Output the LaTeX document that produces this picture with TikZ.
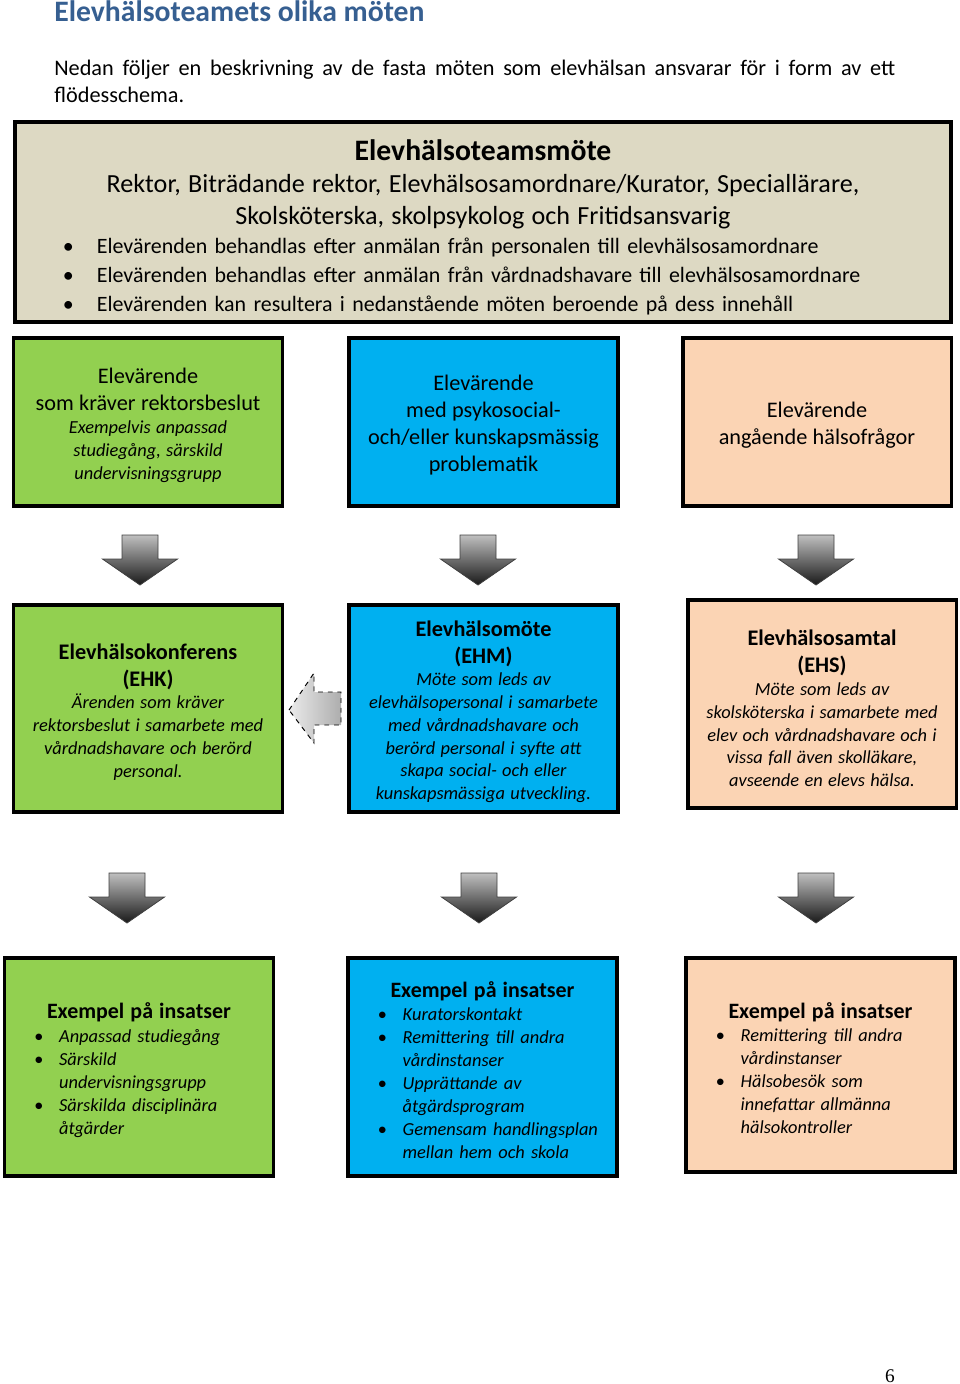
\documentclass[tikz,border=0pt]{standalone}
\usepackage{fontspec}
\setmainfont{Carlito}
\newfontfamily\sidfont{Liberation Serif}
\usetikzlibrary{positioning}
\definecolor{rubrikbla}{HTML}{365F91}
\definecolor{beige}{HTML}{DDD9C3}
\definecolor{gron}{HTML}{92D050}
\definecolor{bla}{HTML}{00B0F0}
\definecolor{persika}{HTML}{FBD4B4}

% punkt i en lista, med haengande indrag
\newcommand\pkt[2][15.5pt]{\par\hyphenpenalty=10000\hangindent=#1\hangafter=1\noindent\makebox[#1][l]{\textbullet}#2\par}

\tikzset{
	ruta/.style={draw=black, line width=2.2pt, inner sep=0pt, align=center, minimum width=166.5pt, text width=158pt,
		execute at end node={\par\vspace*{-4pt}}},
	lista/.style={ruta, align=left, text width=130pt, font=\itshape\fontsize{11.4}{14.3}\selectfont},
	pics/nedpil/.style={code={
		\draw[draw=black!75, line width=0.5pt, top color=black!25, bottom color=black!90]
			(-18,-50) -- (18,-50) -- (18,-26) -- (37.5,-26) -- (0,0) -- (-37.5,-26) -- (-18,-26) -- cycle;
	}},
}

\begin{document}
\begin{tikzpicture}[x=0.62pt, y=-0.62pt]
	\useasboundingbox (0,0) rectangle (960,1384);
	\node (rubrik) [anchor=base west, inner sep=0pt, text=rubrikbla, font=\bfseries\fontsize{18.4}{22}\selectfont] at (54,21) {Elevhälsoteamets olika möten};
	\node (intro) [anchor=north west, inner sep=0pt, text width=521.4pt, align=justify, font=\fontsize{13.8}{16.7}\selectfont] at (54,60)
		{Nedan följer en beskrivning av de fasta möten som elevhälsan ansvarar för i form av ett\linebreak flödesschema.};

	% elevhaelsoteamsmoetet
	\node (etm) [ruta, fill=beige, align=left, minimum width=580.3pt, minimum height=124pt, text width=520.8pt,
		execute at end node={\par\vspace*{-2.5pt}}, font=\fontsize{13.6}{18}\selectfont] at (483,222) {%
		{\centering\bfseries\fontsize{18.4}{21}\selectfont Elevhälsoteamsmöte\par}
		{\centering\fontsize{16.2}{20}\selectfont Rektor, Biträdande rektor, Elevhälsosamordnare/Kurator, Speciallärare,\\ Skolsköterska, skolpsykolog och Fritidsansvarig\par}
		\pkt[21pt]{Elevärenden behandlas efter anmälan från personalen till elevhälsosamordnare}
		\pkt[21pt]{Elevärenden behandlas efter anmälan från vårdnadshavare till elevhälsosamordnare}
		\pkt[21pt]{Elevärenden kan resultera i nedanstående möten beroende på dess innehåll}};

	% elevaerenden
	\node (arende1) [ruta, fill=gron, minimum height=104.2pt] at (148,422) {%
		{\fontsize{13.8}{16.7}\selectfont Elevärende\\ som kräver rektorsbeslut\par}
		{\itshape\fontsize{11.4}{14.3}\selectfont Exempelvis anpassad\\ studiegång, särskild\\ undervisningsgrupp\par}};
	\node (arende2) [ruta, fill=bla, minimum height=104.2pt, minimum width=166.8pt] at (483.5,422) {%
		{\fontsize{13.8}{16.7}\selectfont Elevärende\\ med psykosocial-\\ och/eller kunskapsmässig\\ problematik\par}};
	\node (arende3) [ruta, fill=persika, minimum height=104.2pt] at (817,422) {%
		{\fontsize{13.8}{16.7}\selectfont Elevärende\\ angående hälsofrågor\par}};

	\pic at (140,585) {nedpil};
	\pic at (478,585) {nedpil};
	\pic at (816,585) {nedpil};

	% moeten
	\node (ehk) [ruta, fill=gron, minimum height=128.3pt] at (148,708.5) {%
		{\bfseries\fontsize{13.8}{16.7}\selectfont Elevhälsokonferens\\ (EHK)\par}
		{\itshape\fontsize{11.4}{14.1}\selectfont Ärenden som kräver\\ rektorsbeslut i samarbete med\\ vårdnadshavare och berörd\\ personal.\par}};
	\node (ehm) [ruta, fill=bla, minimum height=128.3pt, minimum width=166.8pt] at (483.5,708.5) {%
		{\bfseries\fontsize{13.8}{16.7}\selectfont Elevhälsomöte\\ (EHM)\par}
		{\itshape\fontsize{11.4}{14.1}\selectfont Möte som leds av\\ elevhälsopersonal i samarbete\\ med vårdnadshavare och\\ berörd personal i syfte att\\ skapa social- och eller\\ kunskapsmässiga utveckling.\par}};
	\node (ehs) [ruta, fill=persika, minimum height=129pt, execute at end node={\par\vspace*{-1.5pt}}] at (822,704) {%
		{\bfseries\fontsize{13.8}{16.7}\selectfont Elevhälsosamtal\\ (EHS)\par}
		{\itshape\fontsize{11.4}{14.1}\selectfont Möte som leds av\\ skolsköterska i samarbete med\\ elev och vårdnadshavare och i\\ vissa fall även skolläkare,\\ avseende en elevs hälsa.\par}};

	% pil fraan ehm till ehk
	\draw[dashed, line width=0.6pt, left color=black!8, right color=black!32]
		(289,710) -- (314,673) -- (314,692) -- (341,692) -- (341,725) -- (314,725) -- (314,743) -- cycle;

	\pic at (127,923) {nedpil};
	\pic at (479,923) {nedpil};
	\pic at (816,923) {nedpil};

	% insatser
	\node (insats1) [lista, fill=gron, minimum height=135.2pt] at (139,1067) {%
		{\centering\upshape\bfseries\fontsize{13.6}{16}\selectfont Exempel på insatser\par}
		\pkt{Anpassad studiegång}
		\pkt{Särskild\newline undervisningsgrupp}
		\pkt{Särskilda disciplinära\newline åtgärder}};
	\node (insats2) [lista, fill=bla, minimum height=135.2pt, minimum width=166.8pt] at (482.5,1067) {%
		{\centering\upshape\bfseries\fontsize{13.6}{16}\selectfont Exempel på insatser\par}
		\pkt{Kuratorskontakt}
		\pkt{Remittering till andra\newline vårdinstanser}
		\pkt{Upprättande av\newline åtgärdsprogram}
		\pkt{\mbox{Gemensam handlingsplan}\newline mellan hem och skola}};
	\node (insats3) [lista, fill=persika, minimum height=132.7pt] at (820.5,1065) {%
		{\centering\upshape\bfseries\fontsize{13.6}{16}\selectfont Exempel på insatser\par}
		\pkt{Remittering till andra\newline vårdinstanser}
		\pkt{Hälsobesök som\newline innefattar allmänna\newline hälsokontroller}};

	\node (sida) [anchor=base, inner sep=0pt, font=\sidfont\fontsize{12}{14}\selectfont] at (890,1382) {6};
\end{tikzpicture}
\end{document}
